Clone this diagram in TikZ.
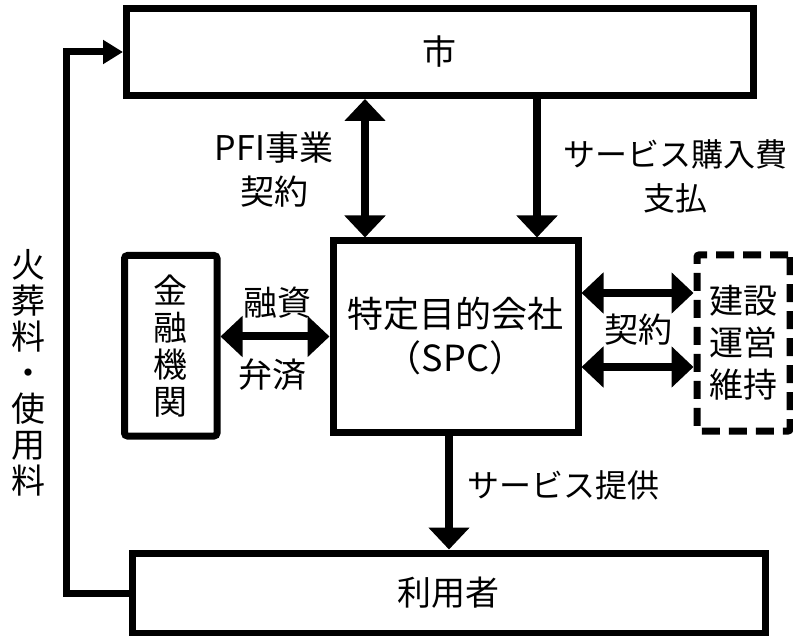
\documentclass[tikz,border=0pt]{standalone}
\usepackage{fontspec}
\setmainfont{Noto Sans CJK JP}
\usetikzlibrary{arrows.meta}
\tikzset{
  box/.style={draw,line width=7pt,inner sep=0pt},
  dbox/.style={draw,line width=7pt,inner sep=0pt,dash pattern=on 18pt off 9pt,rounded corners=2pt},
  lbl/.style={inner sep=0pt,align=center,font=\fontsize{34}{44}\selectfont},
  kana/.style={lbl,font=\fontsize{32}{44}\selectfont},
  big/.style={line width=8pt,>={Triangle[length=22pt,width=40pt]}},
  small/.style={line width=7pt,>={Triangle[length=20pt,width=23pt]}}
}
\begin{document}
\begin{tikzpicture}[line join=miter,x=1pt,y=-1pt]
\useasboundingbox (0,0) rectangle (793,636);
% Vẽ các hộp
\node[box,lbl,minimum width=626.5pt,minimum height=87pt] (shi) at (439.75,52) {市};
\node[box,lbl,minimum width=633pt,minimum height=80pt] (riyo) at (448.5,593) {利用者};
\node[box,lbl,minimum width=245pt,minimum height=191pt,font=\fontsize{36}{44}\selectfont] (spc) at (455.5,336.5) {特定目的会社\\（SPC）};
\node[box,lbl,rounded corners=3pt,minimum width=92.5pt,minimum height=180.5pt,font=\fontsize{34}{37}\selectfont] (kinyu) at (170.75,345.75) {金\\融\\機\\関};
\node[dbox,lbl,minimum width=93pt,minimum height=176pt,font=\fontsize{34}{42}\selectfont] (kensetsu) at (743.5,343) {建設\\運営\\維持};
% Vị trí các mũi tên
\coordinate (pfix) at (365,0);
\coordinate (payx) at (537,0);
\coordinate (svcx) at (449,0);
\coordinate (fb) at (66.5,300);
\coordinate (k1) at (0,293);
\coordinate (k2) at (0,367);
% Vẽ các mũi tên
\draw[big,<->] (shi.south -| pfix) -- (spc.north -| pfix);
\draw[big,->] (shi.south -| payx) -- (spc.north -| payx);
\draw[big,->] (spc.south -| svcx) -- (riyo.north -| svcx);
\draw[big,<->] (spc.west -| kinyu.east) -- (spc.west);
\draw[big,<->] (spc.east |- k1) -- (kensetsu.west |- k1);
\draw[big,<->] (spc.east |- k2) -- (kensetsu.west |- k2);
\draw[small,->] (riyo.west) -| (fb) |- (shi.west);
% Các nhãn
\node[lbl] (pfi) at (274,170) {PFI事業\\契約};
\node[kana] (pay) at (675,176) {サービス購入費\\支払};
\node[lbl] (yushi) at (277,303) {融資};
\node[lbl] (bensai) at (272,375) {弁済};
\node[lbl] (keiyaku) at (638,330) {契約};
\node[kana] (teikyo) at (563,485) {サービス提供};
\node[lbl,font=\fontsize{34}{36}\selectfont] (ryokin) at (28,373) {火\\葬\\料\\・\\使\\用\\料};
\end{tikzpicture}
\end{document}
